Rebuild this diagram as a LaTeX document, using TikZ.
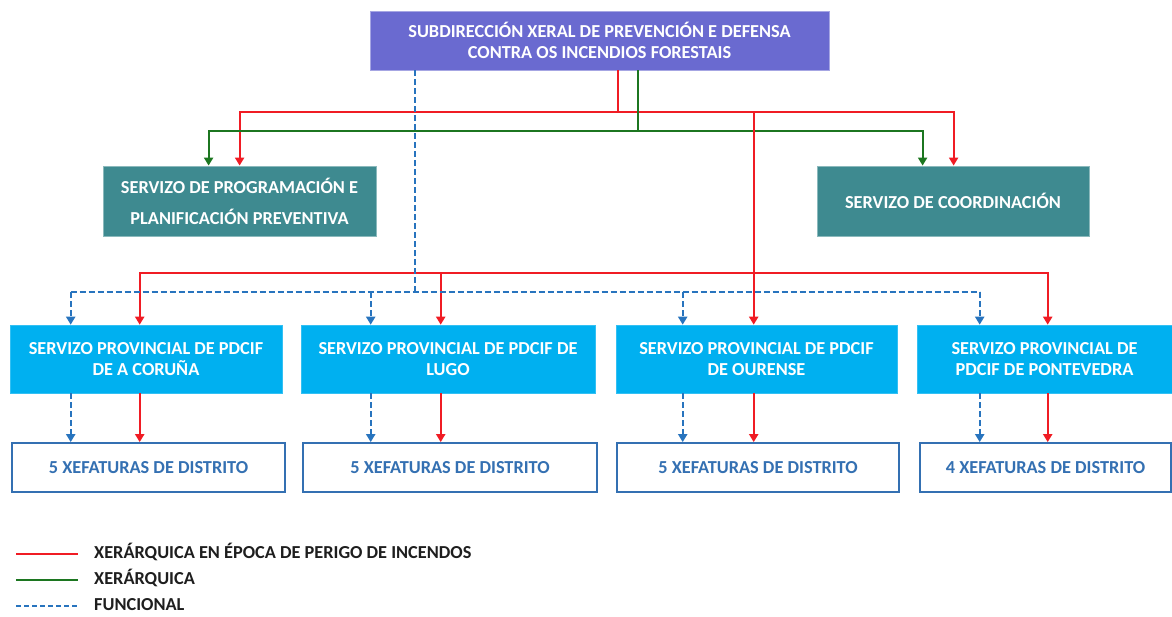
\documentclass[tikz,border=0pt]{standalone}
\usepackage{fontspec}
\setmainfont{Carlito}
\usetikzlibrary{arrows.meta,calc}
\definecolor{topc}{RGB}{106,106,208}
\definecolor{tealc}{RGB}{62,138,144}
\definecolor{provc}{RGB}{0,176,240}
\definecolor{distc}{RGB}{52,112,178}
\definecolor{redc}{RGB}{240,28,36}
\definecolor{greenc}{RGB}{28,118,32}
\definecolor{bluec}{RGB}{40,116,190}
\definecolor{legc}{RGB}{30,30,30}
\begin{document}
\begin{tikzpicture}[x=1pt,y=-1pt,
  box/.style={inner sep=0pt, align=center, text=white,
    font=\bfseries\fontsize{18.3}{21}\selectfont},
  topbox/.style={box, fill=topc, draw=topc!60!white, line width=0.8pt},
  tealbox/.style={box, fill=tealc, draw=tealc!60!white, line width=0.8pt,
    font=\bfseries\fontsize{18.3}{31}\selectfont},
  provbox/.style={box, fill=provc, draw=provc!80!white, line width=0.6pt},
  distbox/.style={box, fill=white, draw=distc, line width=1.8pt, text=distc},
  redl/.style={draw=redc, line width=2pt},
  greenl/.style={draw=greenc, line width=2pt},
  bluel/.style={draw=bluec, line width=2pt, dash pattern=on 6pt off 3pt},
  arr/.style={-{Triangle[width=9pt,length=8pt]}},
  legtext/.style={anchor=west, inner sep=0pt, text=legc,
    font=\bfseries\fontsize{18.3}{20}\selectfont}
]
\useasboundingbox (0,0) rectangle (1172,616);

% boxes
\node[topbox, minimum width=459pt, minimum height=59pt] (top) at (599.5,40.5)
  {SUBDIRECCIÓN XERAL DE PREVENCIÓN E DEFENSA\\CONTRA OS INCENDIOS FORESTAIS};
\node[tealbox, minimum width=273pt, minimum height=70pt] (prog) at (239.5,201)
  {SERVIZO DE PROGRAMACIÓN E\\PLANIFICACIÓN PREVENTIVA};
\node[tealbox, minimum width=272pt, minimum height=70pt] (coord) at (953,201)
  {SERVIZO DE COORDINACIÓN};

\node[provbox, minimum width=272pt, minimum height=68pt] (prov1) at (146,359)
  {SERVIZO PROVINCIAL DE PDCIF\\DE A CORUÑA};
\node[provbox, minimum width=294pt, minimum height=68pt] (prov2) at (448,359)
  {SERVIZO PROVINCIAL DE PDCIF DE\\LUGO};
\node[provbox, minimum width=281pt, minimum height=68pt] (prov3) at (756.5,359)
  {SERVIZO PROVINCIAL DE PDCIF\\DE OURENSE};
\node[provbox, minimum width=255pt, minimum height=68pt] (prov4) at (1044.5,359)
  {SERVIZO PROVINCIAL DE\\PDCIF DE PONTEVEDRA};

\node[distbox, minimum width=273pt, minimum height=49pt] (dist1) at (148.5,467.5)
  {5 XEFATURAS DE DISTRITO};
\node[distbox, minimum width=294pt, minimum height=49pt] (dist2) at (450,467.5)
  {5 XEFATURAS DE DISTRITO};
\node[distbox, minimum width=282pt, minimum height=49pt] (dist3) at (758,467.5)
  {5 XEFATURAS DE DISTRITO};
\node[distbox, minimum width=251pt, minimum height=49pt] (dist4) at (1045.5,467.5)
  {4 XEFATURAS DE DISTRITO};

% junction coordinates
\coordinate (rA) at (618,112);
\coordinate (gA) at (638,131);
\coordinate (bA) at (415,292);
\coordinate (rB) at (754,273);

% arrow x positions on provincial boxes
\coordinate (p1r) at ($(prov1.north west)+(130,0)$);
\coordinate (p2r) at ($(prov2.north west)+(140,0)$);
\coordinate (p3r) at ($(prov3.north west)+(138,0)$);
\coordinate (p4r) at ($(prov4.north west)+(131,0)$);
\coordinate (p1b) at ($(prov1.north west)+(61,0)$);
\coordinate (p2b) at ($(prov2.north west)+(70,0)$);
\coordinate (p3b) at ($(prov3.north west)+(67,0)$);
\coordinate (p4b) at ($(prov4.north west)+(63,0)$);

% red (upper)
\draw[redl] (top.south -| rA) -- (rA);
\draw[redl,arr] (rA) -| ($(prog.north west)+(137,0)$);
\draw[redl,arr] (rA) -| ($(coord.north west)+(137,0)$);
% green
\draw[greenl] (top.south -| gA) -- (gA);
\draw[greenl,arr] (gA) -| ($(prog.north west)+(106,0)$);
\draw[greenl,arr] (gA) -| ($(coord.north west)+(106,0)$);

% red to provincials
\draw[redl,arr] (rA -| p3r) -- (p3r);
\draw[redl,arr] (p3r |- rB) -| (p1r);
\draw[redl,arr] (p3r |- rB) -| (p2r);
\draw[redl,arr] (p3r |- rB) -| (p4r);

% blue dashed functional
\draw[bluel] (top.south -| bA) -- (bA);
\draw[bluel] (p1b |- bA) -- (p4b |- bA);
\draw[bluel,arr] (p1b |- bA) -- (p1b);
\draw[bluel,arr] (p2b |- bA) -- (p2b);
\draw[bluel,arr] (p3b |- bA) -- (p3b);
\draw[bluel,arr] (p4b |- bA) -- (p4b);

% provincial -> district
\foreach \i in {1,2,3,4}{
  \draw[redl,arr] (prov\i.south -| p\i r) -- (dist\i.north -| p\i r);
  \draw[bluel,arr] (prov\i.south -| p\i b) -- (dist\i.north -| p\i b);
}

% legend
\coordinate (l1a) at (16,554); \coordinate (l1b) at (78,554);
\coordinate (l2a) at (16,580); \coordinate (l2b) at (78,580);
\coordinate (l3a) at (16,606); \coordinate (l3b) at (78,606);
\draw[redl] (l1a) -- (l1b);
\draw[greenl] (l2a) -- (l2b);
\draw[bluel, dash pattern=on 5pt off 3pt] (l3a) -- (l3b);
\node[legtext] (lt1) at (94,552) {XERÁRQUICA EN ÉPOCA DE PERIGO DE INCENDOS};
\node[legtext] (lt2) at (94,578) {XERÁRQUICA};
\node[legtext] (lt3) at (94,604.5) {FUNCIONAL};
\end{tikzpicture}
\end{document}
